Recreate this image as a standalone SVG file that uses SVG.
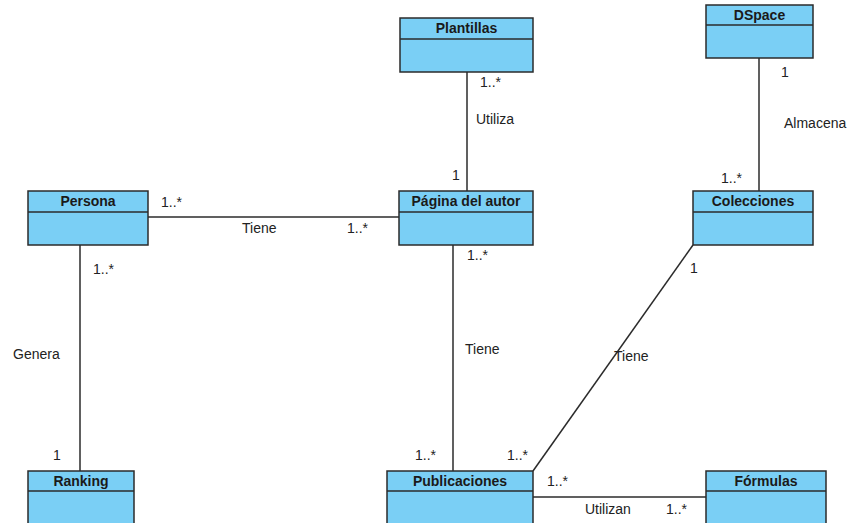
<svg xmlns="http://www.w3.org/2000/svg" width="851" height="523" viewBox="0 0 851 523">
<style>
.box{fill:#7acff5;stroke:#2b2b2b;stroke-width:1.5}
.div{stroke:#2b2b2b;stroke-width:1.5}
.t{font-family:"Liberation Sans",Arial,sans-serif;font-size:14px;font-weight:bold;fill:#1a1a1a;text-anchor:middle}
.l{font-family:"Liberation Sans",Arial,sans-serif;font-size:14px;fill:#222}
.c{stroke:#2b2b2b;stroke-width:1.5;fill:none}
</style>
<rect width="851" height="523" fill="#ffffff"/>
<g id="connectors">
<line class="c" x1="467" y1="72" x2="467" y2="191"/>
<line class="c" x1="759" y1="58" x2="759" y2="191"/>
<line class="c" x1="148" y1="217" x2="399" y2="217"/>
<line class="c" x1="80" y1="245" x2="80" y2="471"/>
<line class="c" x1="453" y1="245" x2="453" y2="471"/>
<line class="c" x1="693" y1="245" x2="533" y2="471"/>
<line class="c" x1="533" y1="497" x2="706" y2="497"/>
<text class="l" x="480" y="87">1..*</text>
<text class="l" x="476" y="124">Utiliza</text>
<text class="l" x="452" y="180">1</text>
<text class="l" x="781" y="77">1</text>
<text class="l" x="784" y="128">Almacena</text>
<text class="l" x="721" y="183">1..*</text>
<text class="l" x="161" y="207">1..*</text>
<text class="l" x="242" y="233">Tiene</text>
<text class="l" x="347" y="233">1..*</text>
<text class="l" x="93" y="274">1..*</text>
<text class="l" x="13" y="359">Genera</text>
<text class="l" x="53" y="460">1</text>
<text class="l" x="467" y="260">1..*</text>
<text class="l" x="465" y="354">Tiene</text>
<text class="l" x="415" y="460">1..*</text>
<text class="l" x="690" y="273">1</text>
<text class="l" x="614" y="361">Tiene</text>
<text class="l" x="507" y="460">1..*</text>
<text class="l" x="547" y="486">1..*</text>
<text class="l" x="585" y="514">Utilizan</text>
<text class="l" x="666" y="514">1..*</text>
</g>
<g id="plantillas">
<rect class="box" x="400" y="18" width="133" height="54"/>
<line class="div" x1="400" y1="39" x2="533" y2="39"/>
<text class="t" x="466.5" y="33">Plantillas</text>
</g>
<g id="dspace">
<rect class="box" x="706" y="5" width="107" height="53"/>
<line class="div" x1="706" y1="25" x2="813" y2="25"/>
<text class="t" x="759.5" y="20">DSpace</text>
</g>
<g id="persona">
<rect class="box" x="28" y="191" width="120" height="54"/>
<line class="div" x1="28" y1="212" x2="148" y2="212"/>
<text class="t" x="88" y="206">Persona</text>
</g>
<g id="pagina">
<rect class="box" x="399" y="191" width="134" height="54"/>
<line class="div" x1="399" y1="212" x2="533" y2="212"/>
<text class="t" x="466" y="206">Página del autor</text>
</g>
<g id="colecciones">
<rect class="box" x="693" y="191" width="120" height="54"/>
<line class="div" x1="693" y1="212" x2="813" y2="212"/>
<text class="t" x="753" y="206">Colecciones</text>
</g>
<g id="ranking">
<rect class="box" x="28" y="471" width="106" height="60"/>
<line class="div" x1="28" y1="491" x2="134" y2="491"/>
<text class="t" x="81" y="486">Ranking</text>
</g>
<g id="publicaciones">
<rect class="box" x="387" y="471" width="146" height="60"/>
<line class="div" x1="387" y1="491" x2="533" y2="491"/>
<text class="t" x="460" y="486">Publicaciones</text>
</g>
<g id="formulas">
<rect class="box" x="706" y="471" width="120" height="60"/>
<line class="div" x1="706" y1="491" x2="826" y2="491"/>
<text class="t" x="766" y="486">Fórmulas</text>
</g>
</svg>
